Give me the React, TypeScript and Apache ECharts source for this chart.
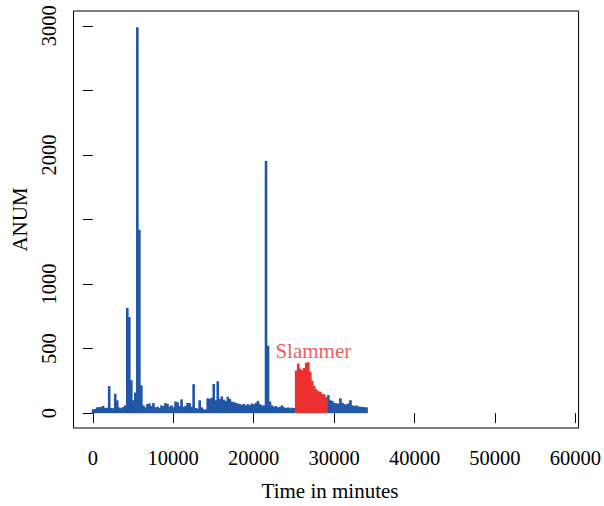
import React, { useEffect, useRef } from "react";
import * as echarts from "echarts";

// Time grid (minutes) for the traffic series
const STEP = 250;
const BLUE_START = 0;
const blueValues: (number | null)[] = [
  30, 32, 45, 46, 48, 56, 40, 42, 209, 40,
  38, 150, 100, 45, 38, 48, 60, 815, 744, 255,
  100, 160, 2990, 1420, 216, 60, 45, 70, 75, 55,
  78, 45, 50, 40, 60, 55, 78, 72, 50, 60,
  45, 90, 85, 55, 107, 50, 55, 80, 78, 50,
  224, 40, 35, 100, 45, 30, 28, 115, 110, 120,
  226, 100, 247, 110, 130, 105, 95, 127, 110, 90,
  85, 80, 75, 70, 65, 72, 60, 70, 62, 75,
  68, 80, 95, 70, 60, 60, 1954, 522, 90, 60,
  50, 55, 45, 50, 60, 45, 40, 45, 38, 42,
  40,
  null, null, null, null, null, null, null, null,
  null, null, null, null, null, null, null, null,
  140, 100, 95, 80, 76, 74, 115, 80, 70, 68,
  75, 100, 60, 55, 60, 52, 50, 48, 46, 45,
];

const SLAMMER_START = 25250;
const slammerValues = [330, 385, 345, 335, 350, 390, 395, 320, 250, 210, 185, 170, 165, 150, 145, 125];

const xTicks = [0, 10000, 20000, 30000, 40000, 50000, 60000];
const yTicks = [0, 500, 1000, 1500, 2000, 2500, 3000];
const yLabels = [0, 500, 1000, 2000, 3000];

const slammerLabel = { minute: 22700, value: 485, text: "Slammer" };

const BLUE = "#2156a5";
const RED = "#ec2f2f";
const FONT = "Liberation Serif";

function toPairs(start: number, vals: (number | null)[]) {
  const out: number[][] = [];
  vals.forEach((v, i) => {
    if (v !== null) out.push([start + i * STEP, v]);
  });
  return out;
}

function barRenderer(color: string) {
  return (_params: any, api: any) => {
    const m = api.value(0);
    const v = api.value(1);
    const p0 = api.coord([m - STEP / 2, v]);
    const p1 = api.coord([m + STEP / 2, 0]);
    return {
      type: "rect",
      shape: { x: p0[0], y: p0[1], width: p1[0] - p0[0] + 0.6, height: p1[1] - p0[1] },
      style: { fill: color },
    };
  };
}

export default function App() {
  const ref = useRef<HTMLDivElement>(null);
  useEffect(() => {
    const chart = echarts.init(ref.current!, null, { renderer: "svg" });
    chart.setOption({
      animation: false,
      backgroundColor: "#ffffff",
      textStyle: { fontFamily: FONT },
      grid: {
        left: 73.5,
        right: 20,
        top: 11,
        bottom: 73,
        show: true,
        borderColor: "#000",
        borderWidth: 1,
        backgroundColor: "transparent",
      },
      xAxis: {
        type: "value",
        min: -2400,
        max: 60400,
        splitLine: { show: false },
        axisLine: { show: false },
        axisTick: { show: true, length: 10, customValues: xTicks, lineStyle: { color: "#000", width: 1 } },
        axisLabel: {
          customValues: xTicks,
          margin: 19,
          color: "#000",
          fontSize: 20.5,
          fontFamily: FONT,
          formatter: (v: number) => String(v),
        },
        name: "Time in minutes",
        nameLocation: "middle",
        nameGap: 52,
        nameTextStyle: { color: "#000", fontSize: 21, fontFamily: FONT, padding: [0, 0, 0, 8] },
      },
      yAxis: {
        type: "value",
        min: -115,
        max: 3115,
        splitLine: { show: false },
        axisLine: { show: false },
        axisTick: { show: true, length: 10, customValues: yTicks, lineStyle: { color: "#000", width: 1 } },
        axisLabel: {
          customValues: yLabels,
          rotate: 90,
          margin: 14,
          color: "#000",
          fontSize: 20.5,
          fontFamily: FONT,
          formatter: (v: number) => String(v),
        },
        name: "ANUM",
        nameLocation: "middle",
        nameGap: 40,
        nameTextStyle: { color: "#000", fontSize: 21, fontFamily: FONT },
      },
      series: [
        {
          type: "custom",
          name: "traffic",
          data: toPairs(BLUE_START, blueValues),
          renderItem: barRenderer(BLUE),
          encode: { x: 0, y: 1 },
        },
        {
          type: "custom",
          name: "slammer",
          data: toPairs(SLAMMER_START, slammerValues),
          renderItem: barRenderer(RED),
          encode: { x: 0, y: 1 },
        },
        {
          type: "scatter",
          data: [[slammerLabel.minute, slammerLabel.value]],
          symbolSize: 0,
          silent: true,
          label: {
            show: true,
            position: "right",
            distance: 0,
            formatter: slammerLabel.text,
            color: RED,
            fontSize: 21,
            fontFamily: FONT,
          },
        },
      ],
    });
    return () => chart.dispose();
  }, []);
  return <div ref={ref} style={{ position: "fixed", left: 0, top: 0, width: 604, height: 506 }} />;
}
